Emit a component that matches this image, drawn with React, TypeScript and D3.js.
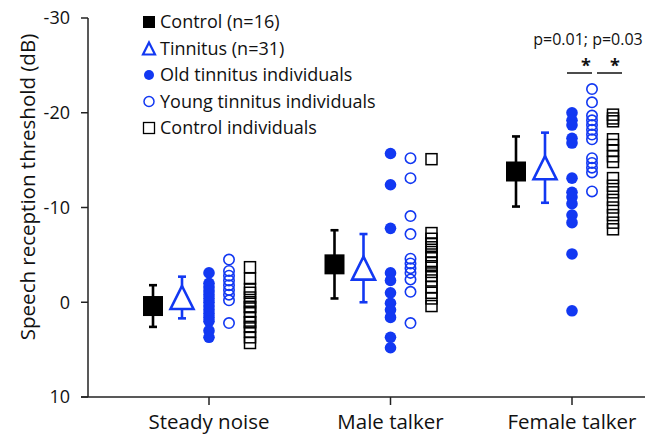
import * as d3 from "d3";
import { useEffect } from "react";

const categories = ["Steady noise", "Male talker", "Female talker"];
const yTicks = [-30, -20, -10, 0, 10];

// group means and SD
const controlMean = [0.4, -4.0, -13.8];
const controlSd = [2.2, 3.6, 3.7];
const tinnitusMean = [-0.5, -3.6, -14.2];
const tinnitusSd = [2.2, 3.6, 3.7];

// individual values
const oldTinnitus = [
  [-3.1, -2.0, -1.6, -1.2, -0.8, -0.4, 0.0, 0.4, 0.8, 1.2, 1.6, 2.0, 3.0, 3.7],
  [-15.7, -12.4, -7.8, -3.1, -2.3, -1.0, 0.1, 0.8, 1.6, 3.7, 4.8],
  [-20.0, -19.2, -18.7, -17.3, -16.8, -13.1, -11.6, -11.1, -10.4, -9.2, -8.4, -5.1, 0.9],
];
const youngTinnitus = [
  [-4.5, -3.3, -2.8, -2.3, -1.8, -1.3, -0.8, -0.2, 2.2],
  [-15.2, -13.1, -9.1, -7.2, -4.6, -4.1, -3.6, -3.1, -2.4, -1.1, 2.2],
  [-22.5, -21.1, -19.7, -19.2, -18.7, -18.2, -17.7, -17.2, -15.2, -14.7, -14.2, -13.7, -11.7],
];
const controlIndiv = [
  [-3.7, -2.5, -1.4, -1.0, -0.5, 0.0, 0.5, 0.5, 1.0, 1.6, 2.1, 2.1, 2.6, 3.1, 3.7, 4.3],
  [-15.1, -7.3, -6.7, -6.2, -5.8, -5.3, -4.8, -4.2, -3.8, -3.2, -2.8, -2.3, -1.6, -1.0, -0.4, 0.4],
  [-19.8, -19.4, -19.1, -17.2, -16.6, -16.0, -15.4, -14.8, -13.1, -12.3, -11.6, -10.8, -10.0, -9.2, -8.4, -7.7],
];

const legendItems = [
  "Control (n=16)",
  "Tinnitus (n=31)",
  "Old tinnitus individuals",
  "Young tinnitus individuals",
  "Control individuals",
];

const BLUE = "#1238f2";
const FONT = "'Open Sans', sans-serif";

const App = () => {
  useEffect(() => {
    document.body.style.margin = "0";
  }, []);

  const W = 659;
  const H = 441;
  const axisLeft = 88;
  const axisRight = 645;

  const y = d3.scaleLinear().domain([-30, 10]).range([18, 397]);
  const x = d3.scalePoint<string>().domain(categories).range([209, 572]);

  // offsets within each group
  const off = { ctrl: -56, tin: -27, old: 0, young: 20, sq: 41 };

  const tri = (cx: number, cy: number, s: number) => {
    const p = d3.path();
    p.moveTo(cx, cy - s / 2);
    p.lineTo(cx + s / 2, cy + s / 2);
    p.lineTo(cx - s / 2, cy + s / 2);
    p.closePath();
    return p.toString();
  };

  const errBar = (cx: number, m: number, sd: number, color: string) => (
    <g stroke={color} strokeWidth={2.6}>
      <line x1={cx} x2={cx} y1={y(m - sd)} y2={y(m + sd)} />
      <line x1={cx - 4} x2={cx + 4} y1={y(m - sd)} y2={y(m - sd)} />
      <line x1={cx - 4} x2={cx + 4} y1={y(m + sd)} y2={y(m + sd)} />
    </g>
  );

  const fx = x("Female talker")!;

  return (
    <svg width={W} height={H} style={{ display: "block", background: "#fff" }} fontFamily={FONT}>
      {/* y axis */}
      <line x1={axisLeft} x2={axisLeft} y1={y(-30)} y2={y(10)} stroke="#222" strokeWidth={1.5} />
      {yTicks.map((t) => (
        <g key={t}>
          <line x1={axisLeft - 7} x2={axisLeft} y1={y(t)} y2={y(t)} stroke="#222" strokeWidth={1.5} />
          <text x={70} y={y(t)} dy="0.35em" textAnchor="end" fontSize={18} fill="#111">
            {t}
          </text>
        </g>
      ))}
      <text
        transform={`translate(28,${187}) rotate(-90)`}
        textAnchor="middle"
        dy="0.35em"
        fontSize={20.5}
        fill="#111"
      >
        Speech reception threshold (dB)
      </text>

      {/* x axis */}
      <line x1={axisLeft - 7} x2={axisRight} y1={y(10)} y2={y(10)} stroke="#222" strokeWidth={1.5} />
      {categories.map((c) => (
        <g key={c}>
          <line x1={x(c)} x2={x(c)} y1={y(10)} y2={y(10) + 8} stroke="#222" strokeWidth={1.5} />
          <text x={x(c)} y={429} textAnchor="middle" fontSize={20.5} fill="#111">
            {c}
          </text>
        </g>
      ))}

      {/* data */}
      {categories.map((c, i) => {
        const cx = x(c)!;
        return (
          <g key={c}>
            {errBar(cx + off.ctrl, controlMean[i], controlSd[i], "#000")}
            <rect
              x={cx + off.ctrl - 10}
              y={y(controlMean[i]) - 10}
              width={20}
              height={20}
              fill="#000"
            />
            {errBar(cx + off.tin, tinnitusMean[i], tinnitusSd[i], BLUE)}
            <path
              d={tri(cx + off.tin, y(tinnitusMean[i]), 23)}
              fill="#fff"
              stroke={BLUE}
              strokeWidth={2.6}
              strokeLinejoin="miter"
            />
            {oldTinnitus[i].map((v, j) => (
              <circle key={"o" + j} cx={cx + off.old} cy={y(v)} r={5.8} fill={BLUE} />
            ))}
            {youngTinnitus[i].map((v, j) => (
              <circle
                key={"y" + j}
                cx={cx + off.young}
                cy={y(v)}
                r={5.2}
                fill="none"
                stroke={BLUE}
                strokeWidth={1.6}
              />
            ))}
            {controlIndiv[i].map((v, j) => (
              <rect
                key={"s" + j}
                x={cx + off.sq - 5.5}
                y={y(v) - 5.5}
                width={11}
                height={11}
                fill="none"
                stroke="#000"
                strokeWidth={1.5}
              />
            ))}
          </g>
        );
      })}

      {/* significance */}
      <text x={fx + 16} y={45} textAnchor="middle" fontSize={16} fill="#111">
        p=0.01; p=0.03
      </text>
      <line x1={fx - 5} x2={fx + 20} y1={73} y2={73} stroke="#111" strokeWidth={1.5} />
      <line x1={fx + 25} x2={fx + 50} y1={73} y2={73} stroke="#111" strokeWidth={1.5} />
      <text x={fx + 14} y={72} textAnchor="middle" fontSize={18} fontWeight="bold" fill="#111">
        *
      </text>
      <text x={fx + 43} y={72} textAnchor="middle" fontSize={18} fontWeight="bold" fill="#111">
        *
      </text>

      {/* legend */}
      {legendItems.map((label, i) => {
        const ly = 22 + i * 26.5;
        const lx = 149;
        let marker;
        if (i === 0) marker = <rect x={lx - 6} y={ly - 6} width={12} height={12} fill="#000" />;
        else if (i === 1)
          marker = <path d={tri(lx, ly, 12)} fill="#fff" stroke={BLUE} strokeWidth={2.2} />;
        else if (i === 2) marker = <circle cx={lx} cy={ly} r={5} fill={BLUE} />;
        else if (i === 3)
          marker = <circle cx={lx} cy={ly} r={5} fill="none" stroke={BLUE} strokeWidth={1.5} />;
        else
          marker = (
            <rect x={lx - 5.5} y={ly - 5.5} width={11} height={11} fill="none" stroke="#000" strokeWidth={1.3} />
          );
        return (
          <g key={label}>
            {marker}
            <text x={160} y={ly} dy="0.35em" fontSize={18} fill="#111">
              {label}
            </text>
          </g>
        );
      })}
    </svg>
  );
};

export default App;
